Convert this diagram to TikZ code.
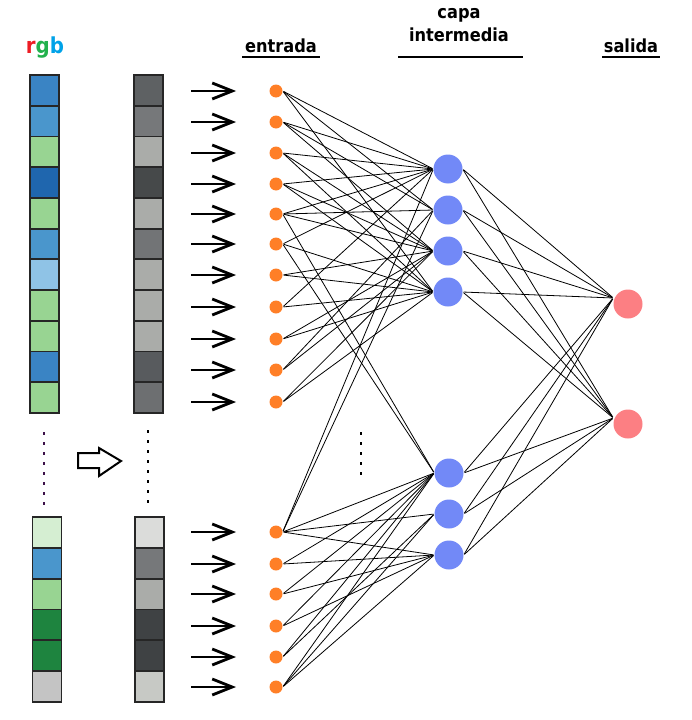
\documentclass[tikz,border=0pt]{standalone}
\usepackage{fontspec}
\IfFontExistsTF{DejaVu Sans Condensed}{\setmainfont{DejaVu Sans Condensed}}{\setmainfont{DejaVu Sans}}
\usetikzlibrary{arrows.meta}
\definecolor{paintred}{HTML}{ED1C24}
\definecolor{paintgreen}{HTML}{22B14C}
\definecolor{paintblue}{HTML}{00A2E8}
\definecolor{neuronin}{HTML}{FF7F27}
\definecolor{neuronhid}{HTML}{7289F7}
\definecolor{neuronout}{HTML}{FC7F83}
\definecolor{dotpurple}{HTML}{3C1048}
% pixel colours
\definecolor{px1}{HTML}{3A84C4}
\definecolor{px2}{HTML}{4A96CC}
\definecolor{px3}{HTML}{98D492}
\definecolor{px4}{HTML}{1F66AE}
\definecolor{px5}{HTML}{8FC3E6}
\definecolor{px6}{HTML}{D5EED2}
\definecolor{px7}{HTML}{1E843F}
\definecolor{px8}{HTML}{C4C4C4}
\definecolor{gr1}{HTML}{5E6163}
\definecolor{gr2}{HTML}{76787A}
\definecolor{gr3}{HTML}{AAACA9}
\definecolor{gr4}{HTML}{46494A}
\definecolor{gr5}{HTML}{727476}
\definecolor{gr6}{HTML}{585B5E}
\definecolor{gr7}{HTML}{6D6F71}
\definecolor{gr8}{HTML}{DBDCDA}
\definecolor{gr9}{HTML}{3F4244}
\definecolor{gr10}{HTML}{C7C9C5}
\tikzstyle{pixel cell} = [%
	rectangle,
	draw=black!85,
	line width=1.8pt,
	inner sep=0pt,
	minimum width=29pt,
	minimum height=30.7pt
]
\tikzstyle{input neuron} = [%
	circle,
	fill=neuronin,
	inner sep=0pt,
	minimum size=13pt
]
\tikzstyle{hidden neuron} = [%
	circle,
	fill=neuronhid,
	inner sep=0pt,
	minimum size=29pt
]
\tikzstyle{output neuron} = [%
	hidden neuron,
	fill=neuronout
]
\tikzstyle{layer title} = [%
	anchor=base,
	inner sep=0pt,
	align=center,
	font=\fontsize{18}{22}\selectfont\bfseries
]
\tikzstyle{title rule} = [line width=2.2pt]
\tikzstyle{feed arrow} = [%
	line width=2.8pt,
	-{Straight Barb[length=20pt,width=16pt]}
]
\tikzstyle{dot column} = [line width=2.6pt, dash pattern=on 2.6pt off 7.4pt]
\tikzset{every edge/.append style={
	line width=0.8pt,
	shorten <=1pt,
	shorten >=1pt
}}

\begin{document}
\begin{tikzpicture}[x=1pt,y=-1pt]
\useasboundingbox (0,0) rectangle (692,720);

% titles
\node[layer title, font=\fontsize{22}{26}\selectfont\bfseries] (rgb) at (45,53) {%
	\textcolor{paintred}{r}\textcolor{paintgreen}{g}\textcolor{paintblue}{b}};
\node[layer title] (entrada) at (281,52) {entrada};
\node[layer title] (capa) at (459,41) {capa\\intermedia};
\node[layer title] (salida) at (631,52) {salida};
\draw[title rule] (242,57) -- (320,57)
                  (398,57) -- (523,57)
                  (602,57) -- (660,57);

% image columns
\foreach \c [count=\k] in {px1,px2,px3,px4,px3,px2,px5,px3,px3,px1,px3}
	\node[pixel cell, fill=\c] (rgb\k) at (44.5,{75+30.73*(\k-0.5)}) {};
\foreach \c [count=\k] in {gr1,gr2,gr3,gr4,gr3,gr5,gr3,gr3,gr3,gr6,gr7}
	\node[pixel cell, fill=\c] (gray\k) at (148.5,{75+30.73*(\k-0.5)}) {};
\foreach \c [count=\k] in {px6,px2,px3,px7,px7,px8}
	\node[pixel cell, fill=\c] (rgbb\k) at (47,{517+30.83*(\k-0.5)}) {};
\foreach \c [count=\k] in {gr8,gr2,gr3,gr9,gr9,gr10}
	\node[pixel cell, fill=\c] (grayb\k) at (149.5,{517+30.83*(\k-0.5)}) {};
\draw[dot column, dotpurple] (44,432) -- (44,506);
\draw[dot column] (148,430) -- (148,504);
\draw[line width=2pt, fill=white]
  (78,453) -- (99,453) -- (99,448) -- (121,461) -- (99,476) -- (99,468) -- (78,468) -- cycle;

% input layer
\foreach \y [count=\k] in {91,122,153,184,214,244,275,307,339,370,402}
	\node[input neuron] (in\k) at (276,\y) {};
\foreach \y [count=\k] in {532,564,594,626,657,687}
	\node[input neuron] (inb\k) at (276,\y) {};
\foreach \k in {1,...,11}
	\draw[feed arrow] ([xshift=-85pt]in\k.center) -- ([xshift=-40pt]in\k.center);
\foreach \k in {1,...,6}
	\draw[feed arrow] ([xshift=-85pt]inb\k.center) -- ([xshift=-40pt]inb\k.center);

% hidden and output layer
\node[hidden neuron] (hid1) at (448,169) {};
\node[hidden neuron] (hid2) at (448,210) {};
\node[hidden neuron] (hid3) at (448,251) {};
\node[hidden neuron] (hid4) at (448,292) {};
\node[hidden neuron] (hid5) at (449,473) {};
\node[hidden neuron] (hid6) at (449,514) {};
\node[hidden neuron] (hid7) at (449,555) {};
\node[output neuron] (out1) at (628,304) {};
\node[output neuron] (out2) at (628,424) {};
\draw[dot column] (361,432) -- (361,476);

% connections
\foreach \a/\b in {in1/hid1, in1/hid2, in1/hid4,
                   in2/hid1, in2/hid2, in2/hid3,
                   in3/hid1, in3/hid3, in3/hid4,
                   in4/hid1, in4/hid3, in4/hid4,
                   in5/hid1, in5/hid2, in5/hid3, in5/hid5,
                   in6/hid1, in6/hid4, in6/hid5,
                   in7/hid3, in7/hid4,
                   in8/hid1, in8/hid4,
                   in9/hid3, in9/hid4,
                   in10/hid2, in10/hid3,
                   in11/hid3, in11/hid4,
                   inb1/hid1, inb1/hid2, inb1/hid5, inb1/hid6, inb1/hid7,
                   inb2/hid5, inb2/hid7,
                   inb3/hid5, inb3/hid7,
                   inb4/hid5, inb4/hid7,
                   inb5/hid5, inb5/hid6,
                   inb6/hid5, inb6/hid6, inb6/hid7}
	\path (\a.east) edge (\b.west);
\foreach \k in {1,...,7}
	\path (hid\k.east) edge ([yshift=6pt]out1.west)
	      (hid\k.east) edge ([yshift=6pt]out2.west);

\end{tikzpicture}
\end{document}
